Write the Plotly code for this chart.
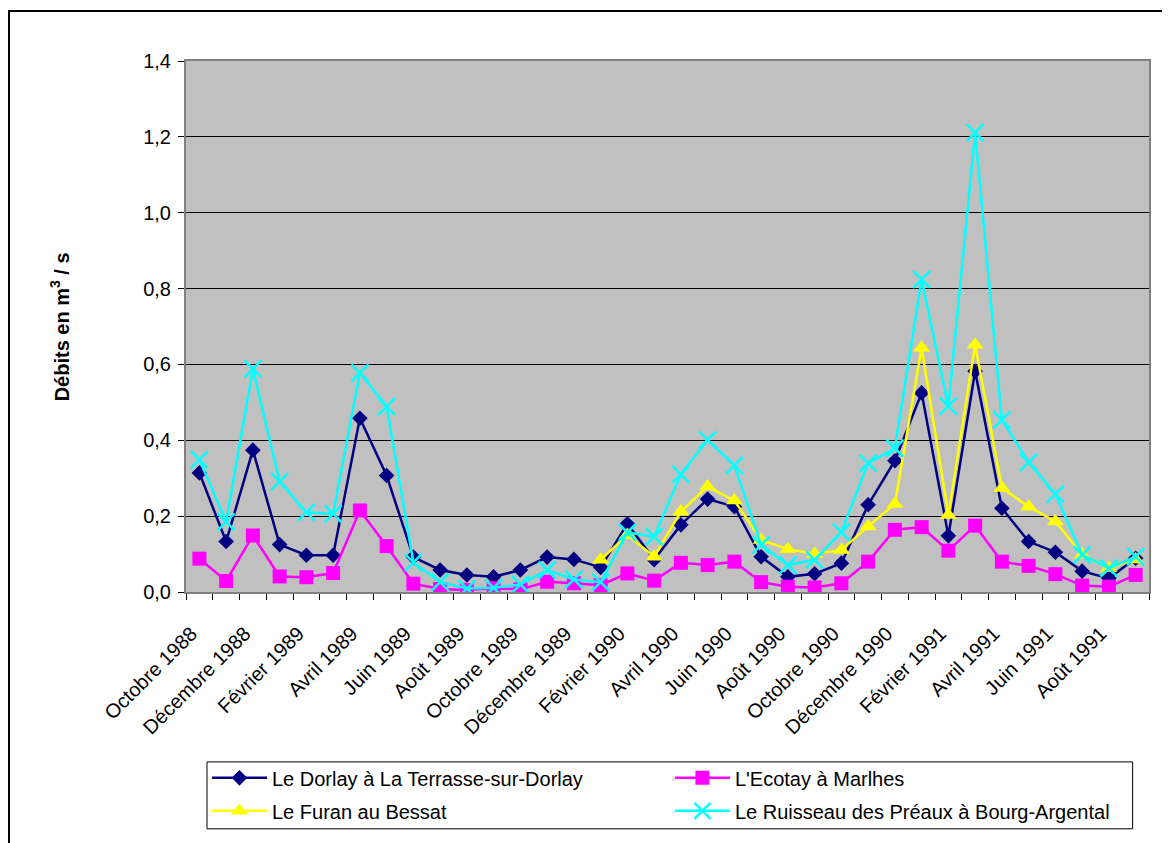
import plotly.graph_objects as go

# ---------------- Data ----------------
months = ["Octobre 1988", "Novembre 1988", "Décembre 1988", "Janvier 1989", "Février 1989",
          "Mars 1989", "Avril 1989", "Mai 1989", "Juin 1989", "Juillet 1989", "Août 1989",
          "Septembre 1989", "Octobre 1989", "Novembre 1989", "Décembre 1989", "Janvier 1990",
          "Février 1990", "Mars 1990", "Avril 1990", "Mai 1990", "Juin 1990", "Juillet 1990",
          "Août 1990", "Septembre 1990", "Octobre 1990", "Novembre 1990", "Décembre 1990",
          "Janvier 1991", "Février 1991", "Mars 1991", "Avril 1991", "Mai 1991", "Juin 1991",
          "Juillet 1991", "Août 1991", "Septembre 1991"]

dorlay = [0.314, 0.133, 0.374, 0.125, 0.097, 0.097, 0.458, 0.307, 0.092, 0.058, 0.045, 0.040,
          0.058, 0.092, 0.086, 0.065, 0.180, 0.085, 0.177, 0.245, 0.225, 0.093, 0.040, 0.048,
          0.076, 0.230, 0.346, 0.525, 0.148, 0.582, 0.221, 0.133, 0.105, 0.055, 0.036, 0.089]

ecotay = [0.088, 0.029, 0.149, 0.041, 0.039, 0.050, 0.215, 0.121, 0.022, 0.008, 0.005, 0.010,
          0.007, 0.027, 0.023, 0.018, 0.049, 0.030, 0.077, 0.071, 0.080, 0.026, 0.014, 0.012,
          0.023, 0.080, 0.164, 0.171, 0.109, 0.175, 0.080, 0.069, 0.047, 0.017, 0.014, 0.045]

furan = [None, None, None, None, None, None, None, None, None, None, None, None,
         None, None, None, 0.085, 0.150, 0.093, 0.212, 0.278, 0.241, 0.137, 0.113, 0.100,
         0.111, 0.173, 0.232, 0.644, 0.203, 0.652, 0.274, 0.225, 0.186, 0.098, 0.063, 0.086]

ruisseau = [0.349, 0.185, 0.588, 0.291, 0.210, 0.206, 0.578, 0.489, 0.078, 0.026, 0.009, 0.011,
            0.020, 0.058, 0.033, 0.026, 0.157, 0.146, 0.311, 0.401, 0.334, 0.124, 0.071, 0.085,
            0.158, 0.340, 0.379, 0.824, 0.490, 1.211, 0.454, 0.342, 0.258, 0.098, 0.063, 0.093]

# every second month gets a label
tick_text = [m if i % 2 == 0 else "" for i, m in enumerate(months)]

# ---------------- Fig ----------------
FONT = "Arial, Liberation Sans, sans-serif"
fig = go.Figure()

fig.add_trace(go.Scatter(x=months, y=dorlay, mode="lines+markers",
                         name="Le Dorlay à La Terrasse-sur-Dorlay", legend="legend",
                         line=dict(color="#000080", width=2.5),
                         marker=dict(symbol="diamond", size=12, color="#000080")))
fig.add_trace(go.Scatter(x=months, y=ecotay, mode="lines+markers",
                         name="L'Ecotay à Marlhes", legend="legend2",
                         line=dict(color="#FF00FF", width=2.5),
                         marker=dict(symbol="square", size=14, color="#FF00FF")))
fig.add_trace(go.Scatter(x=months, y=furan, mode="lines+markers",
                         name="Le Furan au Bessat", legend="legend3",
                         line=dict(color="#FFFF00", width=2.5),
                         marker=dict(symbol="triangle-up", size=15, color="#FFFF00")))
fig.add_trace(go.Scatter(x=months, y=ruisseau, mode="lines+markers",
                         name="Le Ruisseau des Préaux à Bourg-Argental", legend="legend4",
                         line=dict(color="#00FFFF", width=2.5),
                         marker=dict(symbol="x-thin", size=17,
                                     line=dict(color="#00FFFF", width=2.5))))

# ---------------- Layout ----------------
def leg(x, y):
    return dict(x=x, y=y, xanchor="left", yanchor="middle", orientation="v",
                bgcolor="rgba(0,0,0,0)", borderwidth=0, itemwidth=55,
                font=dict(family=FONT, size=20, color="black"))

# the page body adds an 8px offset, margins compensate for it
fig.update_layout(
    width=1170, height=843,
    margin=dict(l=178, r=29, t=53, b=259),
    paper_bgcolor="white",
    plot_bgcolor="#C0C0C0",
    separators=", ",
    font=dict(family=FONT, size=20, color="black"),
    showlegend=True,
    legend=leg(0.0218, -0.350),
    legend2=leg(0.5025, -0.350),
    legend3=leg(0.0218, -0.412),
    legend4=leg(0.5025, -0.412),
    xaxis=dict(type="category", tickmode="array", tickvals=months, ticktext=tick_text,
               tickson="boundaries", ticks="outside", ticklen=6, tickcolor="black",
               tickangle=-45, tickfont=dict(family=FONT, size=20), automargin=False,
               ticklabelstandoff=20, ticklabelshift=-8,
               showgrid=False, showline=True, linecolor="#808080", linewidth=2, mirror=True,
               range=[-0.5, 35.5]),
    yaxis=dict(range=[0, 1.4], dtick=0.2, tickformat=".1f", automargin=False,
               ticks="outside", ticklen=6, tickcolor="black", ticklabelstandoff=3,
               tickfont=dict(family=FONT, size=20),
               showgrid=True, gridcolor="black", gridwidth=1,
               showline=True, linecolor="#808080", linewidth=2, mirror=True,
               zeroline=False),
    annotations=[dict(text="<b>Débits en m<sup>3</sup> / s</b>", textangle=-90,
                      xref="paper", yref="paper", x=-0.131, y=0.5,
                      xanchor="center", yanchor="middle", showarrow=False,
                      font=dict(family=FONT, size=20, color="black"))],
    shapes=[
        # outer chart frame
        dict(type="rect", xref="paper", yref="paper",
             x0=-0.1838, y0=-1.0, x1=1.5, y1=1.0942,
             line=dict(color="black", width=2), fillcolor="rgba(0,0,0,0)", layer="below"),
        # legend box
        dict(type="rect", xref="paper", yref="paper",
             x0=0.0218, y0=-0.446, x1=0.983, y1=-0.320,
             line=dict(color="black", width=1), fillcolor="white", layer="below"),
    ],
)

fig.write_html("out.html")
